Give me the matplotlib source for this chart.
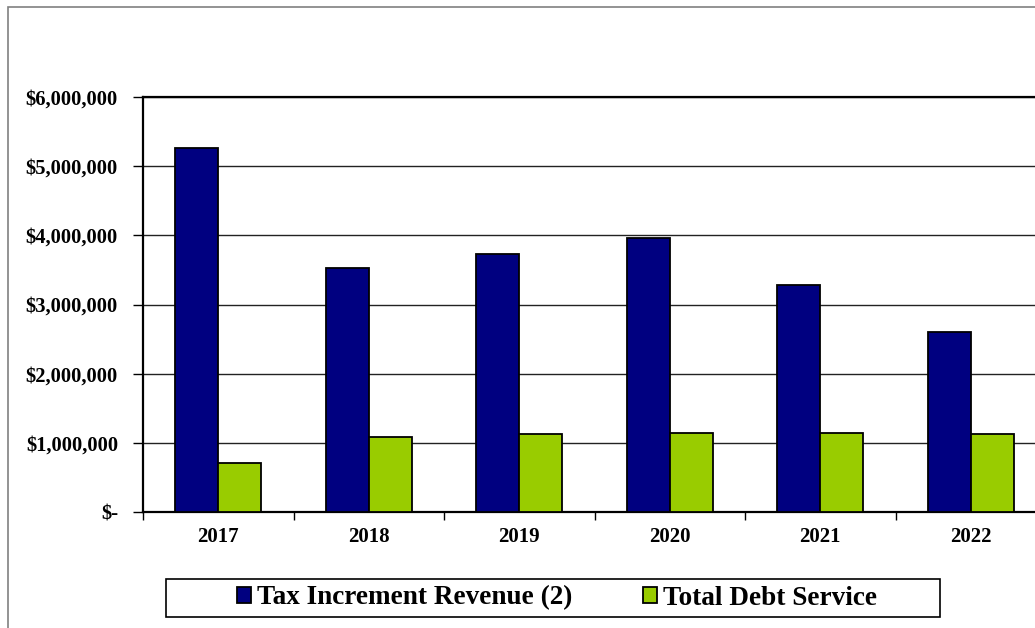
import matplotlib
matplotlib.use("Agg")
import matplotlib.pyplot as plt
import numpy as np
from matplotlib.patches import Rectangle
from matplotlib.ticker import FuncFormatter, MultipleLocator

# ---- data ----
years = ["2017", "2018", "2019", "2020", "2021", "2022"]
tax_increment = [5260000, 3530000, 3730000, 3960000, 3280000, 2600000]
debt_service = [710000, 1080000, 1130000, 1140000, 1140000, 1130000]
series_names = ["Tax Increment Revenue (2)", "Total Debt Service"]

plt.rcParams["font.family"] = ["Liberation Serif", "DejaVu Serif"]
plt.rcParams["font.weight"] = "bold"

W, H = 1035, 628
fig = plt.figure(figsize=(W / 100, H / 100), dpi=100)

# plot area runs past the right edge of the picture, as in the original
ax = fig.add_axes([143 / W, 116 / H, 903 / W, 415 / H])

x = np.arange(len(years))
bw = 0.287
b1 = ax.bar(x - bw / 2, tax_increment, bw, color="#000080",
            edgecolor="black", linewidth=1.3, zorder=3)
b2 = ax.bar(x + bw / 2, debt_service, bw, color="#99CC00",
            edgecolor="black", linewidth=1.3, zorder=3)

ax.set_xlim(-0.5, len(years) - 0.5)
ax.set_ylim(0, 6000000)
ax.yaxis.set_major_locator(MultipleLocator(1000000))
ax.yaxis.set_major_formatter(FuncFormatter(
    lambda v, p: "$-" if v == 0 else f"${v:,.0f}"))
ax.grid(axis="y", color="#222222", linewidth=1.0, zorder=0)

# category labels in the middle, ticks on the boundaries
ax.set_xticks(x)
ax.set_xticklabels(years)
ax.set_xticks(np.arange(-0.5, len(years) + 0.5, 1), minor=True)
ax.tick_params(axis="x", which="major", length=0, pad=11, labelsize=15)
ax.tick_params(axis="x", which="minor", length=6, width=1, direction="out")
ax.tick_params(axis="y", length=7, width=1, pad=11, labelsize=14.8)

for s in ax.spines.values():
    s.set_linewidth(1.6)
    s.set_color("black")

# outer chart frame (cut by the picture edges)
fig.patches.append(Rectangle((8 / W, -0.1), 1.2, 1.1 - 7 / H,
                             transform=fig.transFigure, fill=False,
                             edgecolor="#808080", linewidth=1.2))

# legend box
fig.patches.append(Rectangle((166 / W, (H - 617) / H), (940 - 166) / W, 38 / H,
                             transform=fig.transFigure, fill=False,
                             edgecolor="black", linewidth=1.2))
fig.legend([b1, b2], series_names, loc="center",
           bbox_to_anchor=(557 / W, (H - 598) / H), ncol=2, frameon=False,
           prop={"size": 19.6, "weight": "bold"},
           handlelength=0.52, handleheight=0.52, handletextpad=0.22,
           columnspacing=2.6, borderpad=0)

fig.savefig("out.png", dpi=100)
